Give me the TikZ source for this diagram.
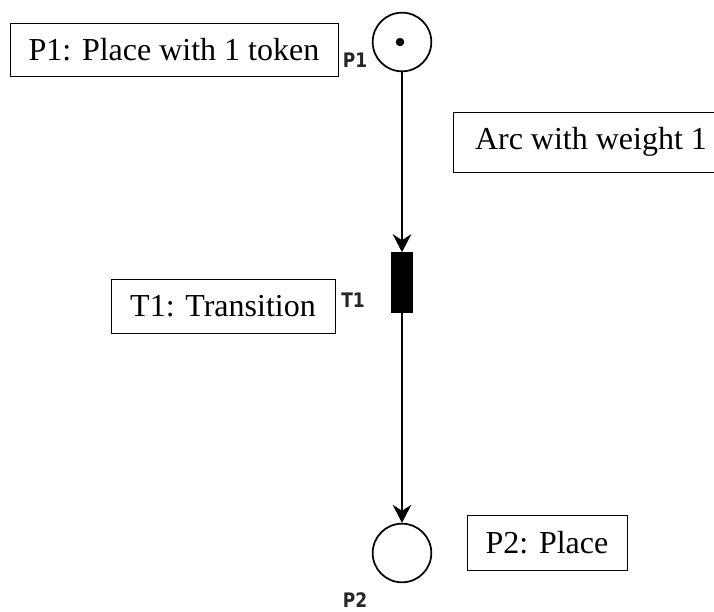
\documentclass[tikz,border=0pt]{standalone}
\usepackage{fontspec}
\setmainfont{Liberation Serif}
\newfontfamily\lblfont[FakeStretch=0.85]{DejaVu Sans}
\usetikzlibrary{arrows.meta}
\begin{document}
\begin{tikzpicture}[x=0.75pt,y=-0.75pt,
  notebox/.style={draw, line width=0.75pt, inner sep=0pt, font=\fontsize{24}{28}\selectfont},
  place/.style={circle, draw, line width=1.3pt, minimum size=44pt, inner sep=0pt},
  trans/.style={rectangle, fill=black, draw=black, line width=0.5pt, minimum width=16pt, minimum height=45pt, inner sep=0pt},
  lbl/.style={font=\lblfont\bfseries\fontsize{15}{17}\selectfont, inner sep=0pt, text=black!85},
  arc/.style={line width=0.9pt, -{Stealth[length=13.5pt, width=14pt, inset=4.5pt]}}]
\useasboundingbox (0,0) rectangle (714,611);
% places and transition
\node[place] (p1) at (402,42) {};
\fill (400,42) circle (3.2pt);
\node[trans] (t1) at (402,282.5) {};
\node[place] (p2) at (402,553) {};
% small labels
\node[lbl] (l1) at (355,60) {P1};
\node[lbl] (lt) at (353,300) {T1};
\node[lbl] (l2) at (355,600) {P2};
% arcs
\draw[arc] (p1) -- (t1);
\draw[arc] (t1) -- (p2);
% annotation boxes
\node[notebox, minimum width=246pt, minimum height=39.75pt] (n1) at (174,49.5) {P1: Place with 1 token};
\node[notebox, minimum width=207pt, minimum height=45pt] (n2) at (591,142) {Arc with weight 1};
\node[notebox, minimum width=168pt, minimum height=40.5pt] (n3) at (223,306) {T1: Transition};
\node[notebox, minimum width=120pt, minimum height=41.25pt] (n4) at (547,542.5) {P2: Place};
\end{tikzpicture}
\end{document}
